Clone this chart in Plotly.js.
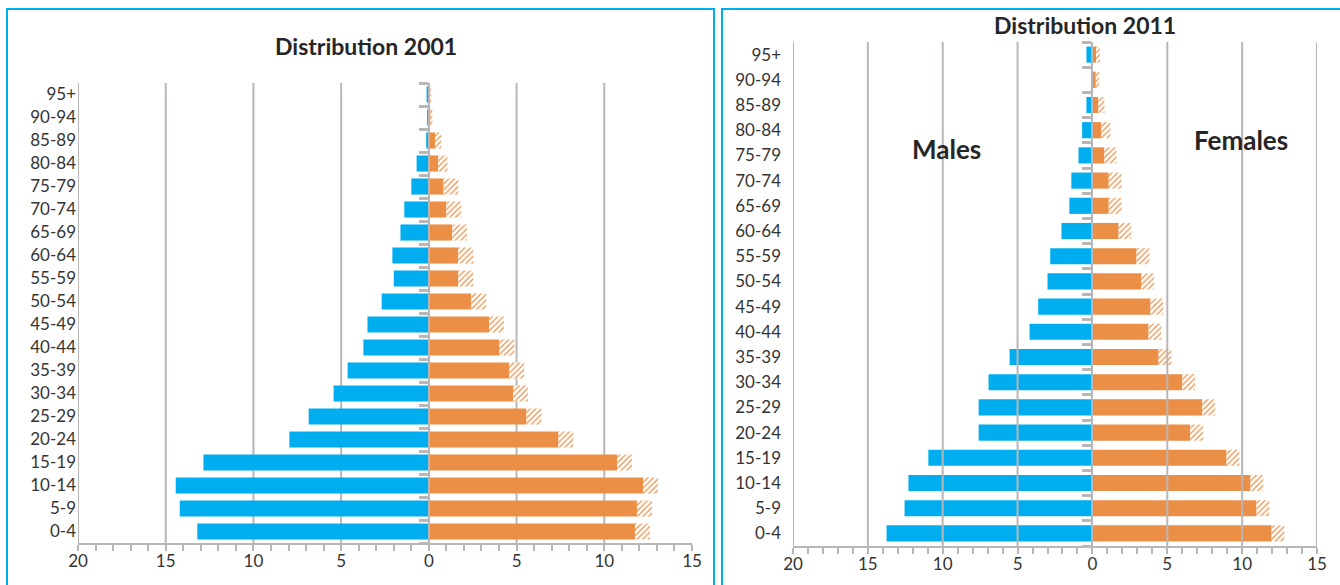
<!DOCTYPE html>
<html><head><meta charset="utf-8">
<script src="https://cdn.plot.ly/plotly-3.0.1.min.js"></script>
<style>
html,body{margin:0;padding:0;background:#fff;overflow:hidden}
#wrap{position:relative;width:1340px;height:585px}
#chart{width:1340px;height:585px}
.frame{position:absolute;border:2px solid #00AEEF;box-sizing:border-box;pointer-events:none}
</style></head><body>
<div id="wrap">
<div id="chart"></div>
<div class="frame" style="left:6px;top:8px;width:709px;height:600px"></div>
<div class="frame" style="left:721px;top:8px;width:640px;height:600px"></div>
</div>
<script>
// ---- data (bottom to top) ----
const ageGroups = ["0-4","5-9","10-14","15-19","20-24","25-29","30-34","35-39","40-44","45-49","50-54","55-59","60-64","65-69","70-74","75-79","80-84","85-89","90-94","95+"];
const males2001   = [13.2,14.2,14.43,12.85,7.95,6.85,5.43,4.63,3.73,3.5,2.69,2.0,2.08,1.62,1.4,1.0,0.7,0.15,0.1,0.13];
const females2001 = [12.6,12.72,13.06,11.58,8.24,6.42,5.65,5.43,4.87,4.28,3.27,2.53,2.53,2.18,1.85,1.68,1.06,0.7,0.2,0.14];
const males2011   = [13.75,12.55,12.29,10.96,7.6,7.6,6.94,5.53,4.2,3.62,3.0,2.82,2.07,1.54,1.41,0.93,0.69,0.4,0.08,0.4];
const females2011 = [12.82,11.81,11.41,9.81,7.39,8.19,6.86,5.27,4.6,4.73,4.12,3.8,2.6,1.94,1.94,1.6,1.2,0.8,0.45,0.5];
const xTickVals = [-20,-15,-10,-5,0,5,10,15];
const xTickText = ["20","15","10","5","0","5","10","15"];
const gridLeft  = [-20,-15,-10,-5,5,10];
const gridRight = [-20,-15,-10,-5,5,10,15];
const titles = ["Distribution 2001","Distribution 2011"];
const sexLabels = ["Males","Females"];

// ---- style ----
const W = 1340, H = 585;
const BLUE = "#00AEEF", ORANGE = "#EB8F46", GREY = "#BBB6B6", TXT = "#333333";
const HATCH = 0.85;
const FONT = "Lato, 'Open Sans', sans-serif";
const xdom1 = [78/W, 692/W], ydom1 = [1-543/H, 1-83/H];
const xdom2 = [793/W, 1317/W], ydom2 = [1-546/H, 1-42/H];
const XMIN = -20, XMAX = 15;
const zeroPos = d => d[0] + (d[1]-d[0]) * (0 - XMIN) / (XMAX - XMIN);
const idx = ageGroups.map((_, i) => i);

function pyramid(males, females, xa, ya, width) {
  const hatch = females.map(v => Math.min(HATCH, v / 2));
  const solid = females.map((v, i) => v - hatch[i]);
  return [
    {type:'bar', orientation:'h', y:ageGroups, x:males.map(v => -v), xaxis:xa, yaxis:ya, width:width,
     marker:{color:BLUE, line:{width:0}}, hoverinfo:'skip', showlegend:false},
    {type:'bar', orientation:'h', y:ageGroups, x:solid, xaxis:xa, yaxis:ya, width:width,
     marker:{color:ORANGE, line:{width:0}}, hoverinfo:'skip', showlegend:false},
    {type:'bar', orientation:'h', y:ageGroups, x:hatch, xaxis:xa, yaxis:ya, width:width,
     marker:{color:ORANGE, line:{width:0}, pattern:{shape:'/', fgcolor:'#ffffff', bgcolor:ORANGE, size:4, solidity:0.7, fillmode:'replace'}},
     hoverinfo:'skip', showlegend:false}
  ];
}

const data = [
  ...pyramid(males2001, females2001, 'x', 'y', 0.7),
  ...pyramid(males2011, females2011, 'x2', 'y2', 0.64),
  {type:'scatter', x:[], y:[], xaxis:'x', yaxis:'y3', showlegend:false, hoverinfo:'skip'},
  {type:'scatter', x:[], y:[], xaxis:'x2', yaxis:'y4', showlegend:false, hoverinfo:'skip'}
];

function xAxis(dom, anchor) {
  return {domain:dom, anchor:anchor, range:[XMIN, XMAX], tickmode:'array', tickvals:xTickVals, ticktext:xTickText,
    ticks:'outside', ticklen:5, tickwidth:2, tickcolor:GREY, showline:true, linecolor:GREY, linewidth:2,
    showgrid:false, zeroline:false, fixedrange:true, ticklabelstandoff:-3,
    minor:{tick0:0, dtick:1, ticks:'outside', ticklen:6, tickwidth:2, tickcolor:GREY, showgrid:false},
    tickfont:{family:FONT, size:17, color:TXT}};
}
function centerAxis(ydom, xdom) {
  return {domain:ydom, anchor:'free', position:zeroPos(xdom), type:'category', categoryorder:'array', categoryarray:ageGroups,
    range:[-0.5, ageGroups.length-0.5], showline:true, linecolor:'#B3B6BA', linewidth:2, ticks:'outside', tickson:'boundaries',
    ticklen:9, tickwidth:3, tickcolor:GREY, showticklabels:false, showgrid:false, zeroline:false, fixedrange:true};
}
function labelAxis(base, xdom, standoff) {
  return {overlaying:base, anchor:'free', position:xdom[0], range:[-0.5, ageGroups.length-0.5], tickmode:'array',
    tickvals:idx, ticktext:ageGroups, ticks:'', showline:false, showgrid:false, zeroline:false, fixedrange:true,
    ticklabelstandoff:standoff, tickfont:{family:FONT, size:17, color:TXT}};
}

const shapes = [
  ...gridLeft.map(v => ({type:'line', xref:'x', yref:'y domain', x0:v, x1:v, y0:0, y1:1, line:{color:GREY, width:2}, layer:'below'})),
  ...gridRight.map(v => ({type:'line', xref:'x2', yref:'y2 domain', x0:v, x1:v, y0:0, y1:1, line:{color:GREY, width:2}, layer:'above'}))
];

const annFont = {family:FONT, size:23, color:'#262626', weight:'bold'};
const annotations = [
  {text:titles[0], xref:'paper', yref:'paper', x:366/W, y:1-46/H, showarrow:false, xanchor:'center', yanchor:'middle', font:annFont},
  {text:titles[1], xref:'paper', yref:'paper', x:1085/W, y:1-25/H, showarrow:false, xanchor:'center', yanchor:'middle', font:annFont},
  {text:sexLabels[0], xref:'paper', yref:'paper', x:946/W, y:1-149/H, showarrow:false, xanchor:'center', yanchor:'middle', font:{...annFont, size:26}},
  {text:sexLabels[1], xref:'paper', yref:'paper', x:1241/W, y:1-140/H, showarrow:false, xanchor:'center', yanchor:'middle', font:{...annFont, size:26}}
];

const layout = {
  width:W, height:H, margin:{l:0, r:0, t:0, b:0}, paper_bgcolor:'#ffffff', plot_bgcolor:'rgba(0,0,0,0)',
  barmode:'relative', showlegend:false,
  xaxis:xAxis(xdom1, 'y'), yaxis:centerAxis(ydom1, xdom1), yaxis3:labelAxis('y', xdom1, 2),
  xaxis2:xAxis(xdom2, 'y2'), yaxis2:centerAxis(ydom2, xdom2), yaxis4:labelAxis('y2', xdom2, 12),
  shapes:shapes, annotations:annotations
};
Plotly.newPlot('chart', data, layout, {staticPlot:true, displayModeBar:false});
</script>
</body></html>
